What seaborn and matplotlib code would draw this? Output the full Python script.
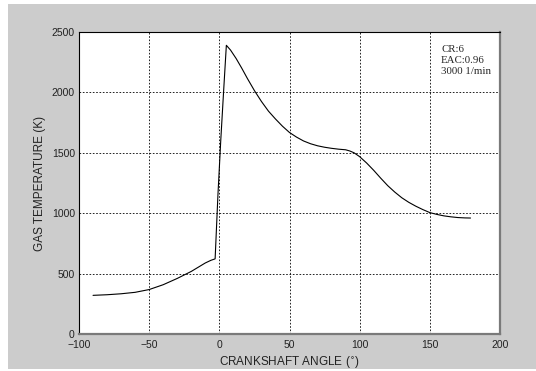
import pandas as pd
import seaborn as sns
import matplotlib.pyplot as plt
from matplotlib.patches import Rectangle

# crank angle (deg) and gas temperature (K)
angle = [-90, -80, -70, -60, -50, -40, -30, -20, -10, -6, -3,
         -1, 1, 3, 5, 8, 12, 16, 20, 25, 30, 35, 40, 45, 50, 55, 60,
         65, 70, 75, 80, 85, 90, 93, 96, 100, 105, 110, 115, 120, 125,
         130, 135, 140, 145, 150, 155, 160, 165, 170, 175, 179]
temp = [320, 325, 333, 345, 368, 408, 460, 518, 588, 610, 622,
        1150, 1600, 2000, 2390, 2350, 2280, 2200, 2115, 2015, 1925, 1845,
        1780, 1720, 1668, 1630, 1598, 1575, 1558, 1546, 1537, 1530, 1525,
        1515, 1500, 1468, 1415, 1355, 1290, 1228, 1175, 1128, 1090, 1058,
        1030, 1005, 990, 978, 970, 964, 961, 960]

notes = ['CR:6', 'EAC:0.96', '3000 1/min']

df = pd.DataFrame({'angle': angle, 'temp': temp})

sns.set_style('white')
plt.rcParams['font.family'] = ['Liberation Sans', 'DejaVu Sans']

W, H = 536, 371
fig = plt.figure(figsize=(W / 100, H / 100), dpi=100, facecolor='white')
# gray window background, thin white strip on the left / top like the screenshot
fig.patches.append(Rectangle((8 / W, 2 / H), 1 - 8 / W, (H - 6) / H,
                             transform=fig.transFigure, facecolor='#cccccc',
                             edgecolor='none', zorder=-10))

ax = fig.add_axes([79 / W, (H - 334) / H, (500 - 79) / W, (334 - 32) / H])
ax.set_facecolor('white')

sns.lineplot(data=df, x='angle', y='temp', ax=ax, color='black', linewidth=0.8)

ax.set_xlim(-100, 200)
ax.set_ylim(0, 2500)
ax.set_xticks([-100, -50, 0, 50, 100, 150, 200])
ax.set_yticks([0, 500, 1000, 1500, 2000, 2500])
ax.grid(True, color='black', linestyle=(0, (2, 2)), linewidth=0.6)
ax.tick_params(direction='in', length=3, labelsize=7.5, colors='black',
               labelcolor='#222222')
ax.tick_params(axis='x', pad=4)
ax.tick_params(axis='y', pad=3)

for s in ['left', 'top']:
    ax.spines[s].set_color('black')
    ax.spines[s].set_linewidth(0.8)
for s in ['right', 'bottom']:
    ax.spines[s].set_color('#7a7a7a')
    ax.spines[s].set_linewidth(1.6)

ax.set_xlabel(r'CRANKSHAFT ANGLE ($^{\circ}$)', fontsize=8.5, color='#222222', labelpad=4)
ax.set_ylabel('GAS TEMPERATURE (K)', fontsize=8.5, color='#222222', labelpad=4)

ax.text(158, 2390, '\n'.join(notes), fontsize=7.8, family=['Liberation Serif'],
        va='top', ha='left', linespacing=1.3)

plt.savefig('out.png', dpi=100, facecolor=fig.get_facecolor())
